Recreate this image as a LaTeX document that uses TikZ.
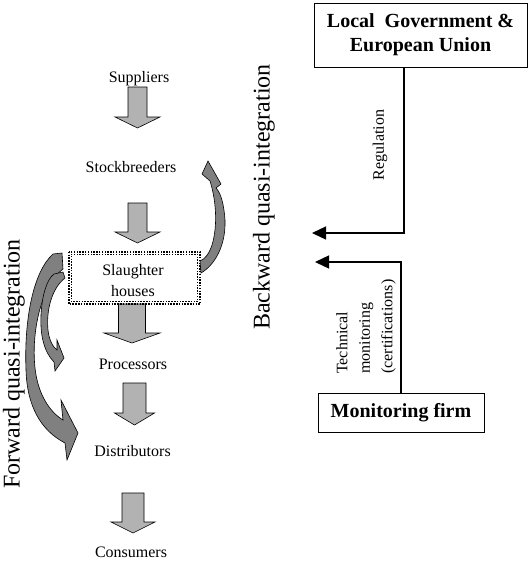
\documentclass[tikz,border=0pt]{standalone}
\usepackage{fontspec}
\setmainfont{Liberation Serif}
\usetikzlibrary{arrows.meta}
\newcommand{\blockarr}[6]{%
  \filldraw[blk] ({#1-#5},#2) -- ({#1+#5},#2) -- ({#1+#5},#3) -- ({#1+#6},#3)
    -- (#1,#4) -- ({#1-#6},#3) -- ({#1-#5},#3) -- cycle;}
\begin{document}
\begin{tikzpicture}[x=1pt,y=-1pt,
  lab/.style={font=\fontsize{16}{19}\selectfont, inner sep=0pt},
  biglab/.style={font=\fontsize{24}{28}\selectfont, inner sep=0pt, rotate=90},
  boldbox/.style={draw, line width=0.9pt, font=\fontsize{20}{24}\selectfont\bfseries, inner sep=0pt, align=center},
  blk/.style={fill=black!30, draw=black, line width=0.6pt},
  crv/.style={fill=black!50, draw=black, line width=0.6pt},
  conn/.style={line width=1.3pt, -{Triangle[length=14pt,width=13pt]}},
  dotbox/.style={line width=1.7pt, dash pattern=on 1.5pt off 1.3pt},
]
\useasboundingbox (0,0) rectangle (528,562);

% chain labels
\node[lab, anchor=base] (sup) at (139,82) {Suppliers};
\node[lab, anchor=base] (stk) at (131,172) {Stockbreeders};
\node[lab, anchor=base] (sla1) at (133,275) {Slaughter};
\node[lab, anchor=base] (sla2) at (133,296) {houses};
\node[lab, anchor=base] (pro) at (133,369) {Processors};
\node[lab, anchor=base] (dis) at (132.5,456) {Distributors};
\node[lab, anchor=base] (con) at (131,557.5) {Consumers};

% block arrows
\blockarr{137.5}{87}{117}{128}{9.5}{22.5}
\blockarr{137.5}{203}{232}{243}{9.5}{22.5}
\blockarr{132}{304}{333}{343}{13.5}{28}
\blockarr{134.5}{383}{413}{425}{11.5}{20}
\blockarr{133}{493}{522}{533}{11}{22}

% slaughter houses dotted frame
\draw[dotbox] (68.8,251.8) rectangle (200.2,304.2);
\draw[dotbox, dash phase=1.4pt] (71.4,254.4) rectangle (197.6,301.6);

% forward quasi-integration arrows
\filldraw[crv] (62,253) -- (63,269)
  .. controls (42,285) and (31,330) .. (35,368)
  .. controls (38,395) and (50,412) .. (63,420)
  -- (61,400) -- (78,433) -- (67,460) -- (65,443)
  .. controls (40,430) and (27,405) .. (26,370)
  .. controls (24,320) and (33,272) .. (53,254) -- cycle;
\filldraw[crv] (63,272) -- (65,278)
  .. controls (52,288) and (46,310) .. (48,330)
  .. controls (49,340) and (53,347) .. (57,350)
  -- (57,340) -- (64,358) -- (55,371) -- (54,362)
  .. controls (44,352) and (40,335) .. (41,315)
  .. controls (42,295) and (47,279) .. (54,274) -- cycle;

% backward quasi-integration arrow
\filldraw[crv] (208,161) -- (202,174) -- (210,181)
  .. controls (216,200) and (218,225) .. (212,245)
  .. controls (209,254) and (205,259) .. (200,261)
  -- (201,273)
  .. controls (215,265) and (226,245) .. (225,220)
  .. controls (224,205) and (221,193) .. (216,188)
  -- (221,184) -- cycle;

% rotated labels
\node[biglab] (bwd) at (264,197) {Backward quasi-integration};
\node[biglab] (fwd) at (14,364) {Forward quasi-integration};

% right side
\node[boldbox, minimum width=213pt, minimum height=64pt] (gov) at (420.5,35) {Local\ \ Government \&\\European Union};
\node[boldbox, minimum width=166pt, minimum height=39pt] (mon) at (401,412.5) {Monitoring firm};

\coordinate (rx) at (404,0);
\coordinate (mx) at (401,0);
\coordinate (regend) at (312,233);
\coordinate (monend) at (315,262);
\draw[conn] (gov.south -| rx) |- (regend);
\draw[conn] (mon.north -| mx) |- (monend);

\node[lab, rotate=90] (reg) at (380,145) {Regulation};
\node[lab, rotate=90, align=left, anchor=west, font=\fontsize{16}{22.5}\selectfont] (tech) at (366,374) {Technical\\monitoring\\(certifications)};
\end{tikzpicture}
\end{document}
